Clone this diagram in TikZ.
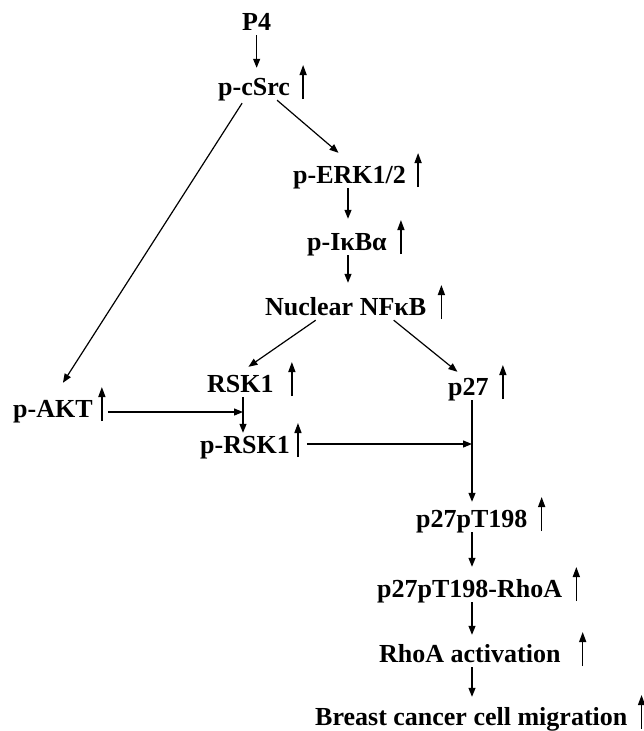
\documentclass[tikz,border=0pt]{standalone}
\usepackage{fontspec}
\setmainfont{Liberation Serif}
\usetikzlibrary{calc}
\usetikzlibrary{arrows.meta}

\tikzset{
  lbl/.style={font=\fontsize{26pt}{30pt}\selectfont\bfseries, inner sep=0pt, text height=18pt, text depth=5pt, anchor=base west},
  arr/.style={-{Triangle[length=9pt,width=7pt]}, line width=1.2pt},
  upar/.style={-{Triangle[length=10pt,width=7pt]}, line width=1.4pt},
}
% small "increase" arrow next to a label
\newcommand{\upmark}[2]{\draw[upar] ($(#1.base east)+(#2,4)$) -- ++(0,-34);}

\begin{document}
\begin{tikzpicture}[x=1pt,y=-1pt]
    \useasboundingbox (0,0) rectangle (643,731);

    % Labels (placed by the base line of the text)
    \node[lbl] (p4)    at (242,30)  {P4};
    \node[lbl] (csrc)  at (218,95)  {p-cSrc};
    \node[lbl] (erk)   at (293,183) {p-ERK1/2};
    \node[lbl] (ikb)   at (307,250) {p-IκBα};
    \node[lbl] (nfkb)  at (265,315) {Nuclear NFκB};
    \node[lbl] (rsk)   at (207,392) {RSK1};
    \node[lbl] (akt)   at (13,417)  {p-AKT};
    \node[lbl] (prsk)  at (200,453) {p-RSK1};
    \node[lbl] (p27)   at (448,395) {p27};
    \node[lbl] (pt198) at (416,527) {p27pT198};
    \node[lbl] (rhoa)  at (377,597) {p27pT198-RhoA};
    \node[lbl] (act)   at (379,662) {RhoA activation};
    \node[lbl] (mig)   at (315,725) {Breast cancer cell migration};

    % Vertical lines
    \coordinate (topline) at (348,0);
    \coordinate (rskline) at (243,0);
    \coordinate (spine) at (472,0);

    % Increase marks
    \upmark{csrc}{13}
    \upmark{erk}{12}
    \upmark{ikb}{14}
    \upmark{nfkb}{15}
    \upmark{rsk}{18}
    \upmark{akt}{9}
    \upmark{prsk}{8}
    \upmark{p27}{14}
    \upmark{pt198}{14}
    \upmark{rhoa}{14}
    \upmark{act}{22}
    \upmark{mig}{14}

    % Upper chain
    \draw[arr, shorten >=9pt] (p4.south) -- (p4.south |- csrc.north);
    \draw[arr] ($(csrc.south)+(23,0)$) -- ($(erk.north)+(-11,-12)$);
    \draw[arr, shorten >=13pt] (erk.south -| topline) -- (ikb.north -| topline);
    \draw[arr, shorten >=14pt] (ikb.south -| topline) -- (nfkb.north -| topline);

    % Branches
    \draw[arr] ($(csrc.south)+(-12,3)$) -- ($(akt.north)+(10,-16)$);
    \draw[arr] ($(nfkb.south)+(-30,0)$) -- ($(rsk.north)+(8,-7)$);
    \draw[arr] ($(nfkb.south)+(48,0)$) -- ($(p27.north)+(-11,-5)$);

    % RSK1 activation
    \draw[arr, shorten >=2pt] (rsk.south -| rskline) -- (prsk.north -| rskline);
    \draw[arr] ($(akt.base east)+(15,-5)$) -- (rskline |- {$(akt.base east)+(0,-5)$});

    % Down to migration
    \draw[arr, shorten >=7pt] (p27.south -| spine) -- (pt198.north -| spine);
    \draw[arr] ($(prsk.base east)+(17,-9)$) -- (spine |- {$(prsk.base east)+(0,-9)$});
    \draw[arr, shorten >=12pt] (pt198.south -| spine) -- (rhoa.north -| spine);
    \draw[arr, shorten >=9pt] (rhoa.south -| spine) -- (act.north -| spine);
    \draw[arr, shorten >=10pt] (act.south -| spine) -- (mig.north -| spine);
\end{tikzpicture}
\end{document}
